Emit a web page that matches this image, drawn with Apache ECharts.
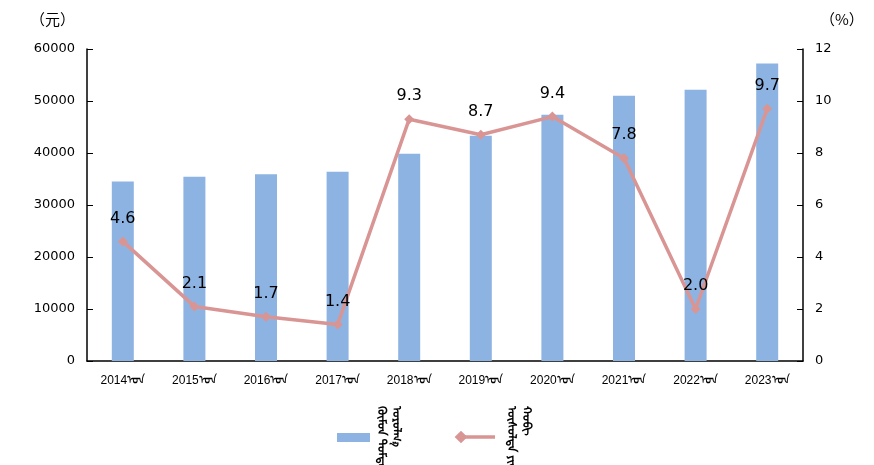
<!DOCTYPE html>
<html>
<head>
<meta charset="utf-8">
<script src="https://cdn.jsdelivr.net/npm/echarts@6/dist/echarts.min.js"></script>
<style>html,body{margin:0;padding:0;background:#fff;}#c{width:874px;height:465px;}</style>
</head>
<body>
<div id="c"></div>
<script>
const years = ['2014', '2015', '2016', '2017', '2018', '2019', '2020', '2021', '2022', '2023'];
const yearSuffix = 'ᠣᠨ';
const incomeValues = [34540, 35440, 35890, 36400, 39870, 43330, 47370, 51020, 52170, 57230];
const growthValues = [4.6, 2.1, 1.7, 1.4, 9.3, 8.7, 9.4, 7.8, 2.0, 9.7];
const leftTicks = {min: 0, max: 60000, interval: 10000};
const rightTicks = {min: 0, max: 12, interval: 2};
const unitLeft = '（元）';
const unitRight = '（%）';
const barLegend = ['ᠬᠦᠮᠦᠨ ᠳᠤᠮᠳᠠᠴᠢ', 'ᠣᠷᠣᠯᠭ᠎ᠠ'];
const lineLegend = ['ᠥᠰᠦᠯᠲᠡ ᠶᠢᠨ', 'ᠬᠤᠪᠢ'];

const categories = years.map(y => y + yearSuffix);
const chart = echarts.init(document.getElementById('c'));
const font = 'DejaVu Sans, sans-serif';
const mongFont = '"Noto Sans Mongolian", "Mongolian Baiti", sans-serif';
const barColor = '#8DB3E2';
const lineColor = '#D99594';

function vtext(x, y, text) {
  return {type: 'text', x: x, y: y, rotation: -Math.PI / 2,
    style: {text: text, fill: '#000', font: 'bold 12px ' + mongFont, textVerticalAlign: 'bottom'}};
}

chart.setOption({
  animation: false,
  grid: {left: 87, right: 71, top: 49, bottom: 104},
  xAxis: {
    type: 'category', data: categories,
    axisLine: {lineStyle: {color: '#000', width: 1.5}},
    axisTick: {show: false},
    axisLabel: {color: '#000', fontSize: 12, fontFamily: 'Liberation Sans, Arial, sans-serif', margin: 14}
  },
  yAxis: [
    {type: 'value', min: leftTicks.min, max: leftTicks.max, interval: leftTicks.interval,
      splitLine: {show: false},
      axisLine: {show: true, lineStyle: {color: '#000', width: 1.5}},
      axisTick: {show: true, inside: true, length: 6, lineStyle: {color: '#000'}},
      axisLabel: {color: '#000', fontSize: 13, fontFamily: font, margin: 12, formatter: v => String(v)}},
    {type: 'value', min: rightTicks.min, max: rightTicks.max, interval: rightTicks.interval,
      splitLine: {show: false},
      axisLine: {show: true, lineStyle: {color: '#000', width: 1.5}},
      axisTick: {show: true, inside: true, length: 6, lineStyle: {color: '#000'}},
      axisLabel: {color: '#000', fontSize: 13, fontFamily: font, margin: 12, formatter: v => String(v)}}
  ],
  legend: {show: false},
  series: [
    {type: 'bar', name: barLegend.join(' '), data: incomeValues, barWidth: 22,
      itemStyle: {color: barColor}},
    {type: 'line', name: lineLegend.join(' '), yAxisIndex: 1, data: growthValues,
      symbol: 'diamond', symbolSize: 10,
      lineStyle: {color: lineColor, width: 3.5}, itemStyle: {color: lineColor},
      label: {show: true, position: 'top', distance: 10, color: '#000', fontSize: 16, fontFamily: font,
        formatter: p => Number(p.value).toFixed(1)}}
  ],
  graphic: [
    {type: 'text', x: 30, y: 12, style: {text: unitLeft, fill: '#000', font: '15px "Noto Sans CJK SC", sans-serif'}},
    {type: 'text', x: 820, y: 12, style: {text: unitRight, fill: '#000', font: '15px "Noto Sans CJK SC", sans-serif'}},
    {type: 'rect', shape: {x: 337, y: 433, width: 33, height: 9}, style: {fill: barColor}},
    {type: 'line', shape: {x1: 458, y1: 437, x2: 495, y2: 437}, style: {stroke: lineColor, lineWidth: 3.5}},
    {type: 'rect', shape: {x: -4.5, y: -4.5, width: 9, height: 9}, x: 461, y: 437, rotation: Math.PI / 4, style: {fill: lineColor}},
    vtext(376, 406, barLegend[0]),
    vtext(391, 406, barLegend[1]),
    vtext(506, 406, lineLegend[0]),
    vtext(521, 406, lineLegend[1])
  ]
});
</script>
</body>
</html>
